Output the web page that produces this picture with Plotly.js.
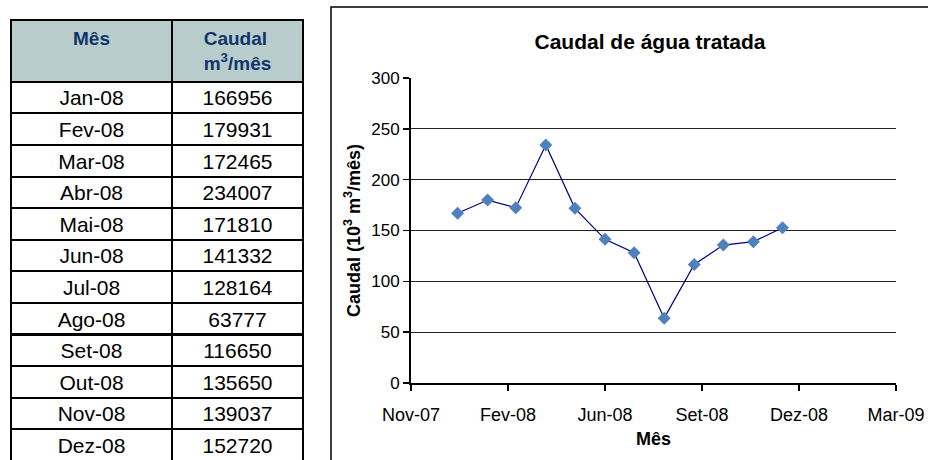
<!DOCTYPE html>
<html>
<head>
<meta charset="utf-8">
<script src="https://cdn.plot.ly/plotly-3.0.1.min.js"></script>
<style>
  html, body { margin: 0; padding: 0; background: #fff; }
  #chart { width: 928px; height: 460px; }
</style>
</head>
<body>
<div id="chart"></div>
<script>
// dados da tabela
var meses = ["Jan-08", "Fev-08", "Mar-08", "Abr-08", "Mai-08", "Jun-08",
  "Jul-08", "Ago-08", "Set-08", "Out-08", "Nov-08", "Dez-08"];
var caudal = [166956, 179931, 172465, 234007, 171810, 141332,
  128164, 63777, 116650, 135650, 139037, 152720];
var datas = ["2008-01-01", "2008-02-01", "2008-03-01", "2008-04-01", "2008-05-01", "2008-06-01",
  "2008-07-01", "2008-08-01", "2008-09-01", "2008-10-01", "2008-11-01", "2008-12-01"];

// eixo x do Excel: passo de 100 dias
var tickDatas = ["2007-11-14", "2008-02-22", "2008-06-01", "2008-09-09", "2008-12-18", "2009-03-28"];
var tickTexto = ["Nov-07", "Fev-08", "Jun-08", "Set-08", "Dez-08", "Mar-09"];

var W = 928, H = 460;
var fonte = "Liberation Sans, Arial, sans-serif";

var tabela = {
  type: "table",
  domain: { x: [11 / W, 303 / W], y: [0, 1 - 20 / H] },
  columnwidth: [161, 131],
  header: {
    values: ["<b>Mês</b>", "<b>Caudal</b><br><b>m<sup>3</sup>/mês</b>"],
    align: "center",
    height: 60,
    fill: { color: "#b8cccc" },
    line: { color: "#000", width: 2 },
    font: { family: fonte, size: 19, color: "#10356b" }
  },
  cells: {
    values: [meses, caudal],
    align: "center",
    height: 31.6,
    fill: { color: "#fff" },
    line: { color: "#000", width: 2 },
    font: { family: fonte, size: 21, color: "#000" }
  }
};

var linha = {
  type: "scatter",
  mode: "lines+markers",
  x: datas,
  y: caudal.map(function (v) { return v / 1000; }),
  line: { color: "#000080", width: 1.2 },
  marker: { symbol: "diamond", size: 10, color: "#4f81bd" },
  showlegend: false
};

var layout = {
  width: W,
  height: H,
  margin: { l: 0, r: 0, t: 0, b: 0 },
  paper_bgcolor: "#fff",
  plot_bgcolor: "#fff",
  font: { family: fonte, color: "#000" },
  title: {
    text: "<b>Caudal de água tratada</b>",
    font: { family: fonte, size: 21, color: "#000" },
    xref: "paper", yref: "paper",
    x: 650 / W, xanchor: "center",
    y: 1 - 42 / H, yanchor: "middle"
  },
  xaxis: {
    domain: [411 / W, 896 / W],
    type: "date",
    range: ["2007-11-14", "2009-03-28"],
    tickmode: "array",
    tickvals: tickDatas,
    ticktext: tickTexto,
    ticks: "outside",
    ticklen: 6,
    tickwidth: 1.5,
    tickcolor: "#000",
    ticklabelstandoff: 8,
    showline: true,
    linecolor: "#000",
    linewidth: 2,
    showgrid: false,
    zeroline: false,
    tickfont: { family: fonte, size: 18, color: "#000" },
    title: {
      text: "<b>Mês</b>",
      font: { family: fonte, size: 18, color: "#000" },
      standoff: 9
    },
    automargin: false
  },
  yaxis: {
    domain: [1 - 383 / H, 1 - 78 / H],
    range: [0, 300],
    dtick: 50,
    ticks: "outside",
    ticklen: 6,
    tickwidth: 1.5,
    tickcolor: "#000",
    showline: true,
    linecolor: "#000",
    linewidth: 2,
    showgrid: true,
    gridcolor: "#222",
    gridwidth: 1.2,
    zeroline: false,
    tickfont: { family: fonte, size: 17, color: "#000" },
    title: {
      text: "<b>Caudal (10<sup>3</sup> m<sup>3</sup>/mês)</b>",
      font: { family: fonte, size: 18, color: "#000" },
      standoff: 6
    },
    automargin: false
  },
  shapes: [{
    type: "rect",
    xref: "paper", yref: "paper",
    x0: 331 / W, x1: 1.01,
    y0: -0.02, y1: 1 - 7 / H,
    line: { color: "#000", width: 1.5 }
  }]
};

Plotly.newPlot("chart", [tabela, linha], layout, { displayModeBar: false, staticPlot: true });
</script>
</body>
</html>
